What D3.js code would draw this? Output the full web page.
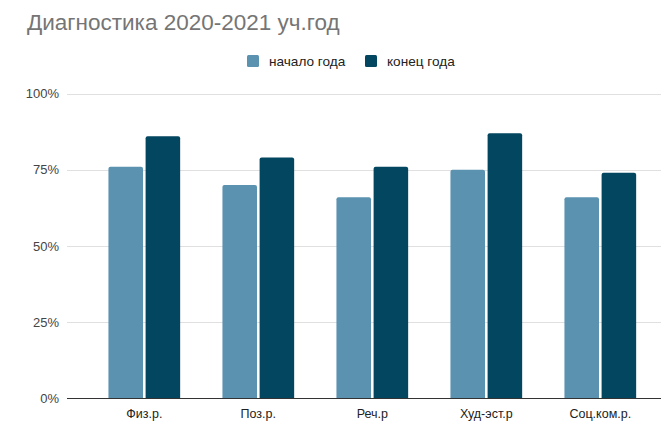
<!DOCTYPE html>
<html>
<head>
<meta charset="utf-8">
<script src="https://cdn.jsdelivr.net/npm/d3@7"></script>
<style>
  html, body { margin: 0; padding: 0; background: #fff; }
  svg { display: block; font-family: "Liberation Sans", Arial, sans-serif; }
</style>
</head>
<body>
<svg id="chart" width="661" height="423"></svg>
<script>
const categories = ["Физ.р.", "Поз.р.", "Реч.р", "Худ-эст.р", "Соц.ком.р."];
const seriesNames = ["начало года", "конец года"];
const startValues = [0.76, 0.70, 0.66, 0.75, 0.66];
const endValues = [0.86, 0.79, 0.76, 0.87, 0.74];
const yTicks = [0, 0.25, 0.5, 0.75, 1];
const titleText = "Диагностика 2020-2021 уч.год";

const colors = ["#5a92b0", "#02465f"];
const seriesValues = [startValues, endValues];

const svg = d3.select("#chart");
const plotLeft = 67, plotRight = 661;
const y = d3.scaleLinear().domain([0, 1]).range([398.5, 93.5]);
const x = d3.scaleBand().domain(categories).range([87.3, 657.3]).paddingInner(0.371).paddingOuter(0.1855);
const xs = d3.scaleBand().domain(seriesNames).range([0, x.bandwidth()]).paddingInner(0.07);

// Title
svg.append("text")
  .attr("x", 27).attr("y", 30)
  .attr("font-size", 22.5)
  .attr("fill", "#757575")
  .text(titleText);

// Legend
const legendX = [247, 365];
seriesNames.forEach((s, i) => {
  const g = svg.append("g").attr("transform", `translate(${legendX[i]},55)`);
  g.append("rect").attr("width", 12).attr("height", 12).attr("rx", 1.5).attr("fill", colors[i]);
  g.append("text").attr("x", 22).attr("y", 10.5).attr("font-size", 13.6).attr("fill", "#222").text(s);
});

// Gridlines
svg.append("g").selectAll("line").data(yTicks.filter(d => d > 0)).join("line")
  .attr("x1", plotLeft).attr("x2", plotRight)
  .attr("y1", d => Math.round(y(d)) + 0.5).attr("y2", d => Math.round(y(d)) + 0.5)
  .attr("stroke", "#e0e0e0").attr("stroke-width", 1);

// Y axis labels
svg.append("g").selectAll("text").data(yTicks).join("text")
  .attr("x", 59).attr("y", d => y(d) + 4.5)
  .attr("text-anchor", "end")
  .attr("font-size", 13)
  .attr("fill", "#444")
  .text(d => d3.format(".0%")(d));

// Bars
const groups = svg.append("g").selectAll("g").data(categories).join("g")
  .attr("transform", d => `translate(${x(d)},0)`);
groups.selectAll("path").data((c, ci) => seriesNames.map((s, si) => ({ s, si, v: seriesValues[si][ci] })))
  .join("path")
  .attr("fill", d => colors[d.si])
  .attr("d", d => {
    const x0 = xs(d.s), w = xs.bandwidth(), y0 = y(d.v), yb = y(0), r = 2;
    return `M${x0},${yb}V${y0 + r}Q${x0},${y0} ${x0 + r},${y0}H${x0 + w - r}Q${x0 + w},${y0} ${x0 + w},${y0 + r}V${yb}Z`;
  });

// Baseline
svg.append("line")
  .attr("x1", plotLeft).attr("x2", plotRight)
  .attr("y1", y(0)).attr("y2", y(0))
  .attr("stroke", "#333").attr("stroke-width", 1);

// X axis labels
svg.append("g").selectAll("text").data(categories).join("text")
  .attr("x", d => x(d) + x.bandwidth() / 2).attr("y", 418)
  .attr("text-anchor", "middle")
  .attr("font-size", 12.5)
  .attr("fill", "#222")
  .text(d => d);
</script>
</body>
</html>
